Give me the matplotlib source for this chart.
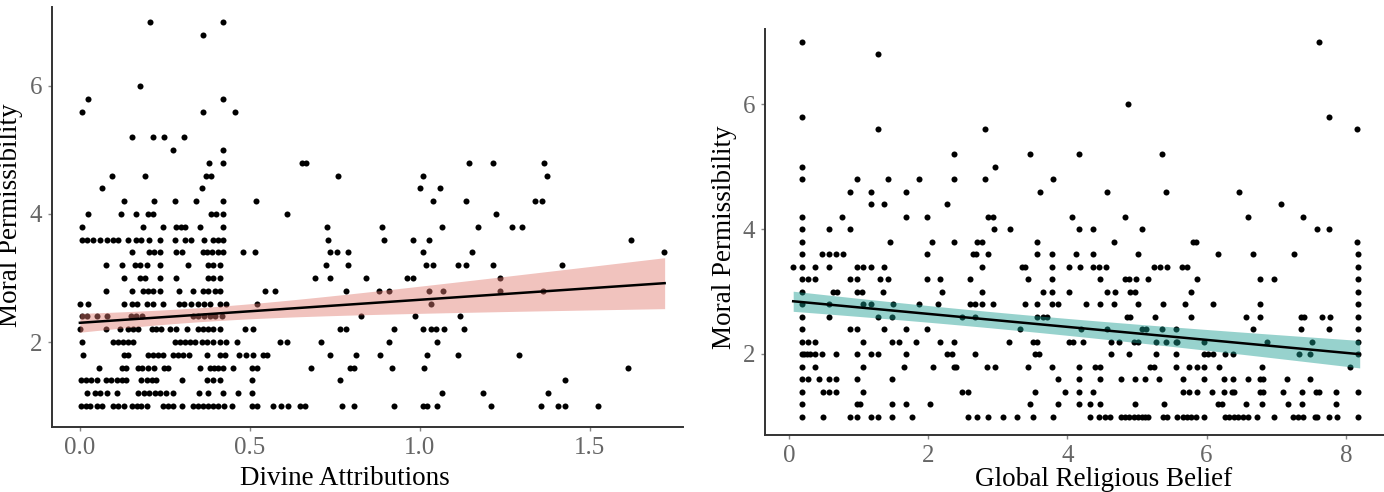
import numpy as np
import matplotlib
matplotlib.use("Agg")
import matplotlib.pyplot as plt

# ---------------- data: left panel (Divine Attributions) ----------------
div_levels = [7.0, 6.8, 6.0, 5.8, 5.6, 5.2, 5.0, 4.8, 4.6, 4.4, 4.2, 4.0, 3.8, 3.6,
              3.4, 3.2, 3.0, 2.8, 2.6, 2.4, 2.2, 2.0, 1.8, 1.6, 1.4, 1.2, 1.0]
div_x_by_level = [
    [0.206, 0.422],
    [0.363],
    [0.176],
    [0.025, 0.422],
    [0.005, 0.363, 0.456],
    [0.152, 0.214, 0.248, 0.307],
    [0.275, 0.422],
    [0.379, 0.422, 0.652, 0.665, 1.145, 1.216, 1.366],
    [0.094, 0.191, 0.370, 0.385, 0.758, 1.008, 1.375],
    [0.064, 0.358, 1.000, 1.059],
    [0.130, 0.219, 0.279, 0.343, 0.422, 0.517, 1.039, 1.137, 1.338, 1.360],
    [0.025, 0.121, 0.165, 0.201, 0.214, 0.385, 0.400, 0.422, 0.610, 1.224],
    [0.005, 0.186, 0.245, 0.284, 0.297, 0.309, 0.353, 0.422, 0.727, 0.889, 1.065, 1.172, 1.270, 1.301],
    [0.005, 0.022, 0.039, 0.059, 0.081, 0.098, 0.113, 0.142, 0.165, 0.181, 0.204, 0.235, 0.279,
     0.309, 0.328, 0.365, 0.392, 0.407, 0.422, 0.730, 0.894, 0.979, 1.028, 1.621],
    [0.152, 0.204, 0.219, 0.235, 0.284, 0.299, 0.361, 0.375, 0.390, 0.407, 0.422, 0.480, 0.515,
     0.735, 0.755, 0.789, 1.008, 1.154, 1.719],
    [0.076, 0.125, 0.162, 0.176, 0.196, 0.235, 0.319, 0.377, 0.392, 0.412, 0.725, 0.789, 1.018,
     1.039, 1.113, 1.137, 1.216, 1.419],
    [0.129, 0.176, 0.191, 0.235, 0.284, 0.377, 0.392, 0.412, 0.691, 0.735, 0.841, 0.963, 0.980, 1.237],
    [0.078, 0.152, 0.186, 0.201, 0.216, 0.235, 0.291, 0.333, 0.363, 0.377, 0.397, 0.412, 0.544,
     0.574, 0.784, 0.880, 0.908, 1.028, 1.069, 1.235, 1.361],
    [0.000, 0.025, 0.129, 0.152, 0.167, 0.196, 0.216, 0.245, 0.291, 0.306, 0.326, 0.348, 0.365,
     0.384, 0.412, 0.431, 0.520, 1.034],
    [0.005, 0.022, 0.049, 0.080, 0.149, 0.165, 0.184, 0.333, 0.348, 0.365, 0.382, 0.397, 0.417,
     0.828, 0.986, 1.118],
    [0.000, 0.076, 0.118, 0.142, 0.157, 0.172, 0.211, 0.225, 0.240, 0.265, 0.284, 0.314, 0.348,
     0.363, 0.377, 0.392, 0.412, 0.485, 0.510, 0.765, 0.784, 0.924, 1.008, 1.034, 1.047, 1.071, 1.130],
    [0.005, 0.098, 0.113, 0.127, 0.142, 0.157, 0.279, 0.294, 0.309, 0.324, 0.338, 0.358, 0.373,
     0.392, 0.412, 0.431, 0.463, 0.588, 0.608, 0.709, 0.910, 1.049],
    [0.010, 0.129, 0.142, 0.201, 0.216, 0.230, 0.245, 0.275, 0.289, 0.304, 0.322, 0.375, 0.412,
     0.426, 0.468, 0.490, 0.510, 0.539, 0.549, 0.735, 0.812, 0.884, 1.020, 1.113, 1.291],
    [0.057, 0.125, 0.137, 0.172, 0.184, 0.201, 0.218, 0.247, 0.260, 0.353, 0.382, 0.395, 0.407,
     0.422, 0.449, 0.505, 0.520, 0.681, 0.795, 0.806, 0.917, 1.013, 1.613],
    [0.002, 0.018, 0.034, 0.049, 0.078, 0.093, 0.108, 0.123, 0.137, 0.181, 0.196, 0.211, 0.225,
     0.299, 0.373, 0.392, 0.412, 0.507, 0.765, 1.426],
    [0.022, 0.044, 0.059, 0.080, 0.108, 0.172, 0.188, 0.204, 0.221, 0.235, 0.253, 0.275, 0.351,
     0.377, 0.420, 0.466, 0.507, 1.066, 1.186, 1.376],
    [0.002, 0.018, 0.031, 0.049, 0.064, 0.098, 0.113, 0.129, 0.152, 0.167, 0.181, 0.196, 0.245,
     0.260, 0.275, 0.299, 0.333, 0.348, 0.363, 0.377, 0.392, 0.407, 0.424, 0.446, 0.505, 0.520,
     0.569, 0.593, 0.613, 0.647, 0.662, 0.770, 0.806, 0.924, 1.008, 1.020, 1.049, 1.209, 1.357,
     1.405, 1.426, 1.525],
]

# fitted regression: y = intercept + slope * x
div_fit_intercept = 2.30
div_fit_slope = 0.36
div_fit_range = [0.0, 1.72]
# 95% CI half-width: sqrt(hw_min^2 + k (x - x0)^2)
div_ci_x0 = 0.35
div_ci_hw_min = 0.11
div_ci_k = 0.078

# ---------------- data: right panel (Global Religious Belief) ----------------
grb_levels = [7.0, 6.8, 6.0, 5.8, 5.6, 5.2, 5.0, 4.8, 4.6, 4.4, 4.2, 4.0, 3.8, 3.6,
              3.4, 3.2, 3.0, 2.8, 2.6, 2.4, 2.2, 2.0, 1.8, 1.6, 1.4, 1.2, 1.0]
grb_x_by_level = [
    [0.182, 7.610],
    [1.274],
    [4.866],
    [0.182, 7.759],
    [1.274, 2.816, 8.156],
    [2.376, 3.463, 4.167, 5.364],
    [0.182, 2.965],
    [0.182, 0.972, 1.427, 1.873, 2.376, 2.816, 3.798],
    [0.876, 1.178, 1.676, 3.606, 4.569, 5.417, 6.466],
    [1.178, 1.370, 2.265, 7.064],
    [0.182, 0.757, 1.676, 1.978, 2.864, 2.926, 4.066, 4.823, 6.590, 7.390],
    [0.182, 0.580, 0.876, 2.950, 3.175, 4.167, 4.368, 5.067, 7.586, 7.759],
    [0.182, 1.451, 2.059, 2.376, 2.697, 2.768, 3.568, 4.670, 5.809, 5.843, 8.156],
    [0.182, 0.470, 0.575, 0.675, 0.780, 1.978, 2.650, 2.690, 2.864, 3.568, 3.774, 4.124, 4.363,
     5.019, 6.169, 6.663, 7.262, 8.172],
    [0.062, 0.182, 0.374, 0.575, 0.972, 1.068, 1.173, 1.370, 2.768, 3.343, 3.391, 3.774, 4.028,
     4.181, 4.363, 4.460, 4.555, 5.245, 5.330, 5.426, 5.642, 5.724, 8.172],
    [0.182, 0.278, 0.374, 0.876, 0.972, 1.308, 1.427, 1.978, 2.170, 2.601, 3.439, 3.774, 4.469,
     4.828, 4.890, 4.986, 5.163, 5.858, 6.768, 6.974, 8.172],
    [0.182, 0.637, 0.685, 0.972, 1.044, 1.346, 2.194, 2.768, 3.645, 3.774, 4.028, 4.565, 4.684,
     4.900, 4.971, 5.772, 8.172],
    [0.182, 0.575, 1.068, 1.173, 1.499, 1.873, 2.146, 2.601, 2.673, 2.768, 2.936, 3.391, 3.570,
     3.774, 3.870, 4.267, 4.469, 4.670, 5.019, 5.369, 5.690, 6.088, 6.768, 8.172],
    [0.182, 0.575, 1.274, 1.475, 2.481, 2.673, 3.568, 3.654, 3.702, 4.852, 4.900, 5.259, 5.772,
     6.567, 6.768, 7.358, 7.406, 7.655, 7.775, 8.172],
    [0.182, 0.876, 0.972, 1.370, 1.676, 1.978, 3.319, 4.196, 4.574, 5.067, 5.129, 5.355, 5.561,
     6.663, 7.358, 7.765, 8.172],
    [0.182, 0.278, 0.374, 1.068, 1.475, 1.585, 1.825, 2.170, 2.376, 3.166, 3.511, 3.559, 4.028,
     4.076, 4.220, 4.622, 4.746, 4.957, 5.019, 5.273, 5.417, 5.561, 5.580, 5.963, 6.864, 7.511, 8.172],
    [0.182, 0.216, 0.254, 0.302, 0.374, 0.470, 0.675, 0.972, 1.173, 1.284, 1.676, 2.265, 2.346,
     2.673, 3.540, 3.597, 4.622, 4.890, 5.273, 5.561, 5.963, 6.025, 6.097, 6.265, 6.375, 7.334,
     7.487, 8.172],
    [0.182, 0.374, 1.068, 1.652, 2.074, 2.376, 2.400, 2.840, 2.960, 3.430, 3.774, 4.172, 4.397,
     4.469, 5.187, 5.245, 5.561, 5.753, 5.858, 5.963, 6.183, 6.792, 8.062],
    [0.182, 0.278, 0.436, 0.575, 0.675, 0.972, 1.475, 3.870, 4.172, 4.469, 4.766, 4.971, 5.115,
     5.321, 5.666, 5.963, 6.250, 6.385, 6.600, 6.768, 6.816, 7.161, 7.487],
    [0.182, 0.484, 0.575, 0.675, 1.068, 2.481, 2.577, 3.535, 3.965, 4.172, 4.363, 5.666, 5.753,
     5.858, 6.073, 6.250, 6.361, 6.394, 6.768, 6.806, 7.094, 7.367, 7.573, 7.621, 7.861, 8.172],
    [0.182, 0.972, 1.020, 1.475, 1.676, 2.026, 3.463, 3.870, 4.172, 4.325, 4.469, 4.971, 5.388,
     6.169, 6.217, 6.567, 6.792, 7.166, 7.367, 7.861],
    [0.182, 0.484, 0.876, 0.972, 1.173, 1.284, 1.475, 1.772, 2.577, 2.697, 2.864, 3.080, 3.271,
     3.511, 3.789, 4.325, 4.459, 4.540, 4.612, 4.765, 4.828, 4.890, 4.957, 5.019, 5.067, 5.115,
     5.163, 5.378, 5.436, 5.570, 5.656, 5.714, 5.772, 5.848, 5.963, 6.265, 6.327, 6.394, 6.457,
     6.519, 6.600, 6.720, 6.974, 7.248, 7.320, 7.391, 7.559, 7.593, 7.765, 7.871, 8.172],
]

grb_fit_intercept = 2.85
grb_fit_slope = -0.104
grb_fit_range = [0.06, 8.2]
grb_ci_x0 = 2.9
grb_ci_hw_min = 0.13
grb_ci_k = 0.00112

left_xticks = [0.0, 0.5, 1.0, 1.5]
left_xticklabels = ["0.0", "0.5", "1.0", "1.5"]
right_xticks = [0, 2, 4, 6, 8]
yticks = [2, 4, 6]

x_label_left = "Divine Attributions"
x_label_right = "Global Religious Belief"
y_label = "Moral Permissibility"


def flatten(levels, xs_by_level):
    xs, ys = [], []
    for lv, xs_row in zip(levels, xs_by_level):
        xs.extend(xs_row)
        ys.extend([lv] * len(xs_row))
    return np.array(xs), np.array(ys)


def fit_band(b0, b1, x0, hw_min, k, grid):
    fit = b0 + b1 * grid
    hw = np.sqrt(hw_min ** 2 + k * (grid - x0) ** 2)
    return fit, fit - hw, fit + hw


plt.rcParams['font.family'] = ['Liberation Serif', 'DejaVu Serif']

fig = plt.figure(figsize=(13.84, 4.92), dpi=100)
W, H = 1384.0, 492.0
axL = fig.add_axes([52 / W, 1 - 427 / H, 631 / W, 420 / H])
axR = fig.add_axes([765 / W, 1 - 435 / H, 619 / W, 406 / H])

spine_col = "#333333"
tick_col = "#666666"


def style(ax):
    for side in ("top", "right"):
        ax.spines[side].set_visible(False)
    for side in ("left", "bottom"):
        ax.spines[side].set_color(spine_col)
        ax.spines[side].set_linewidth(1.4)
    ax.tick_params(axis="both", colors="#888888", labelcolor=tick_col,
                   labelsize=18, length=3, width=1.0, pad=4)


# left panel
xl, yl = flatten(div_levels, div_x_by_level)
axL.scatter(xl, yl, s=19, color="black", linewidths=0, zorder=2)
gL = np.linspace(div_fit_range[0], div_fit_range[1], 200)
fL, loL, hiL = fit_band(div_fit_intercept, div_fit_slope, div_ci_x0, div_ci_hw_min, div_ci_k, gL)
axL.fill_between(gL, loL, hiL, color="#E07A70", alpha=0.45, linewidth=0, zorder=3)
axL.plot(gL, fL, color="black", linewidth=1.8, zorder=4)
axL.set_xlim(-0.082, 1.774)
axL.set_ylim(0.672, 7.234)
axL.set_xticks(left_xticks)
axL.set_xticklabels(left_xticklabels)
axL.set_yticks(yticks)
style(axL)
axL.set_xlabel(x_label_left, fontsize=19.5, color="black")
axL.xaxis.set_label_coords(0.464, -0.092)
axL.set_ylabel(y_label, fontsize=19.5, color="black")
axL.yaxis.set_label_coords(-0.046, 0.505)

# right panel
xr, yr = flatten(grb_levels, grb_x_by_level)
axR.scatter(xr, yr, s=19, color="black", linewidths=0, zorder=2)
gR = np.linspace(grb_fit_range[0], grb_fit_range[1], 200)
fR, loR, hiR = fit_band(grb_fit_intercept, grb_fit_slope, grb_ci_x0, grb_ci_hw_min, grb_ci_k, gR)
axR.fill_between(gR, loR, hiR, color="#1a9c90", alpha=0.45, linewidth=0, zorder=3)
axR.plot(gR, fR, color="black", linewidth=1.8, zorder=4)
axR.set_xlim(-0.345, 8.549)
axR.set_ylim(0.704, 7.2)
axR.set_xticks(right_xticks)
axR.set_yticks(yticks)
style(axR)
axR.set_xlabel(x_label_right, fontsize=19.5, color="black")
axR.xaxis.set_label_coords(0.547, -0.079)
axR.set_ylabel(y_label, fontsize=19.5, color="black")
axR.yaxis.set_label_coords(-0.045, 0.488)

fig.savefig("out.png", dpi=100)
